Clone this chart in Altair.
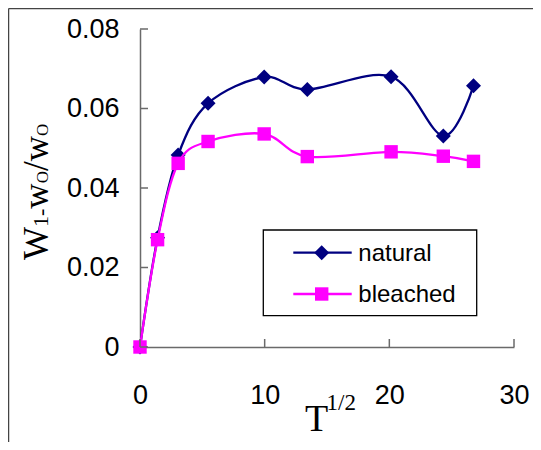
import altair as alt
import pandas as pd

# ---- data ----
t_sqrt = [0, 1.41, 3.06, 5.46, 9.96, 13.42, 20.14, 24.33, 26.75]
natural = [0, 0.0275, 0.0483, 0.0613, 0.0679, 0.0648, 0.0680, 0.0531, 0.0657]
bleached = [0, 0.0270, 0.0462, 0.0517, 0.0536, 0.0479, 0.0491, 0.0480, 0.0467]
series_names = ["natural", "bleached"]
series_colors = ["#000080", "#FF00FF"]
series_shapes = ["diamond", "square"]
series_sizes = [225, 180]
x_ticks = [0, 10, 20, 30]
y_ticks = [0, 0.02, 0.04, 0.06, 0.08]

W, H = 374, 318
AX = "#6a6a6a"
one = alt.Data(values=[{}])

xs = alt.Scale(domain=[0, 30], nice=False, zero=False)
ys = alt.Scale(domain=[0, 0.08], nice=False)

x_enc = alt.X("t:Q", scale=xs, axis=alt.Axis(
    values=x_ticks, title=None, grid=False, ticks=False, tickSize=0,
    domainColor=AX, domainWidth=1.5, labelFont="Liberation Sans",
    labelFontSize=27, labelColor="black", labelPadding=35, labelFlush=False))
y_enc = alt.Y("v:Q", scale=ys, axis=alt.Axis(
    values=y_ticks, title=None, grid=False, ticks=False, tickSize=0,
    domainColor=AX, domainWidth=1.5, labelFont="Liberation Sans",
    labelFontSize=27, labelColor="black", labelPadding=21, labelFlush=False,
    labelExpr="datum.value == 0 ? '0' : format(datum.value, '.2f')"))

df_n = pd.DataFrame({"t": t_sqrt, "v": natural})
df_b = pd.DataFrame({"t": t_sqrt, "v": bleached})

layers = []
for i, df in enumerate([df_n, df_b]):
    col = series_colors[i]
    layers.append(alt.Chart(df).mark_line(interpolate="cardinal", color=col,
                                          strokeWidth=2.3).encode(x=x_enc, y=y_enc))
    layers.append(alt.Chart(df).mark_point(shape=series_shapes[i], filled=True,
                                           size=series_sizes[i], color=col,
                                           opacity=1).encode(x=x_enc, y=y_enc))

# inward tick marks
layers.append(alt.Chart(pd.DataFrame({"v": y_ticks})).mark_rule(color=AX, strokeWidth=1.5)
              .encode(y=y_enc, x=alt.value(0), x2=alt.value(8)))
layers.append(alt.Chart(pd.DataFrame({"t": x_ticks})).mark_rule(color=AX, strokeWidth=1.5)
              .encode(x=x_enc, y=alt.value(H), y2=alt.value(H - 8)))

# legend box
layers.append(alt.Chart(one).mark_rect(fill="white", stroke="black", strokeWidth=1.3)
              .encode(x=alt.value(123.3), x2=alt.value(336.7),
                      y=alt.value(201), y2=alt.value(286.7)))
row_y = [223.7, 265.0]
for i, name in enumerate(series_names):
    ry = row_y[i]
    layers.append(alt.Chart(one).mark_rule(color=series_colors[i], strokeWidth=2.3)
                  .encode(x=alt.value(153.3), x2=alt.value(211.7), y=alt.value(ry)))
    layers.append(alt.Chart(one).mark_point(shape=series_shapes[i], filled=True,
                                            size=series_sizes[i],
                                            color=series_colors[i], opacity=1)
                  .encode(x=alt.value(181.7), y=alt.value(ry)))
    layers.append(alt.Chart(one).mark_text(text=name, font="Liberation Sans", fontSize=24,
                                           align="left", baseline="alphabetic", color="black")
                  .encode(x=alt.value(218.3), y=alt.value(ry + 8.4)))

# y-axis title with subscripts, rotated
parts = [("W", 35), ("1-", 22), ("w", 35), ("O", 17), ("/", 35), ("w", 35), ("O", 17)]
em = {"W": 0.944, "1-": 0.833, "w": 0.722, "O": 0.722, "/": 0.278}
yy = 231.0
for txt, fs in parts:
    layers.append(alt.Chart(one).mark_text(text=txt, font="Liberation Serif", fontSize=fs,
                                           angle=270, align="left", baseline="alphabetic",
                                           color="black")
                  .encode(x=alt.value(-92.5), y=alt.value(yy)))
    yy -= em[txt] * fs

# x-axis title T^(1/2)
layers.append(alt.Chart(one).mark_text(text="T", font="Liberation Serif", fontSize=38,
                                       align="left", baseline="alphabetic", color="black")
              .encode(x=alt.value(165), y=alt.value(402)))
layers.append(alt.Chart(one).mark_text(text="1/2", font="Liberation Serif", fontSize=23,
                                       align="left", baseline="alphabetic", color="black")
              .encode(x=alt.value(186.5), y=alt.value(381)))

# outer frame (top and left edges visible in the reference)
layers.append(alt.Chart(one).mark_rule(color="#444444", strokeWidth=1.3)
              .encode(x=alt.value(-131.4), x2=alt.value(393), y=alt.value(-20.4)))
layers.append(alt.Chart(one).mark_rule(color="#444444", strokeWidth=1.3)
              .encode(x=alt.value(-131.4), y=alt.value(-20.4), y2=alt.value(413)))

chart = alt.layer(*layers).properties(
    width=W, height=H,
    autosize=alt.AutoSizeParams(type="none"),
    padding={"left": 132, "top": 21, "right": 19, "bottom": 95},
).configure_view(strokeWidth=0)

chart.save("out.html", embed_options={"renderer": "svg", "actions": False})
